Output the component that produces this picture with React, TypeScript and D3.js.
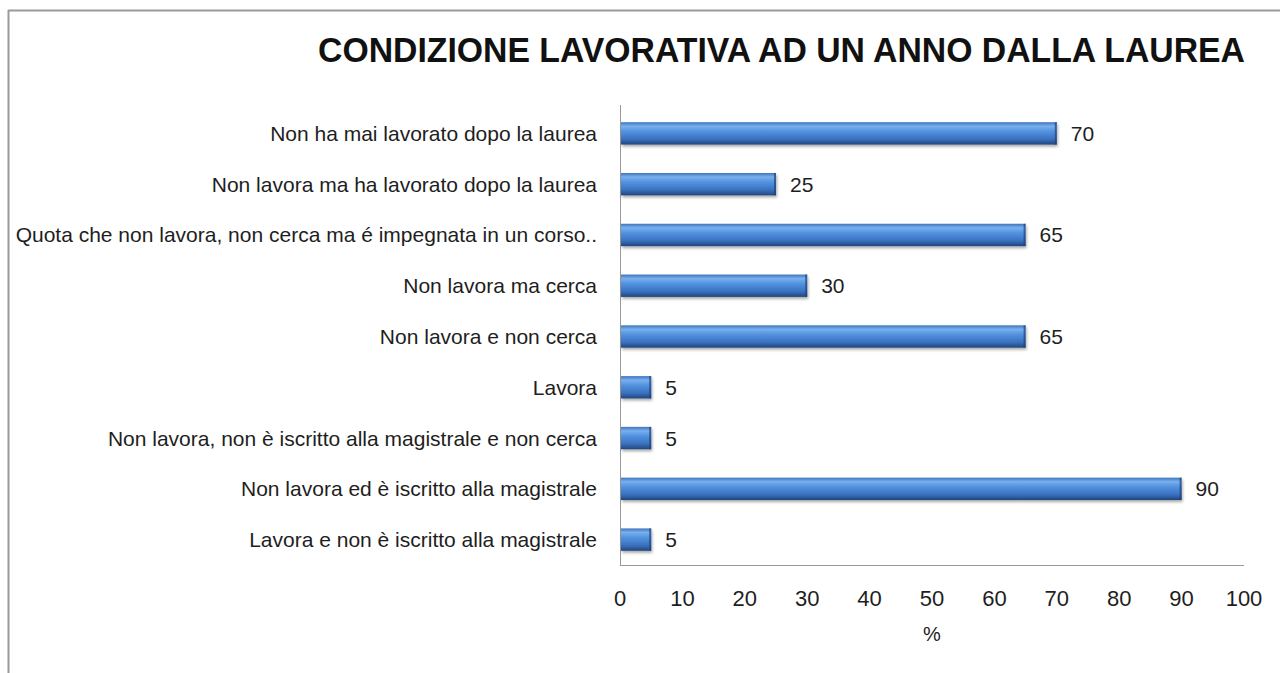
import React from "react";
import * as d3 from "d3";

const categories = [
  "Non ha mai lavorato dopo la laurea",
  "Non lavora ma ha lavorato dopo la laurea",
  "Quota che non lavora, non cerca ma é impegnata in un corso..",
  "Non lavora ma cerca",
  "Non lavora e non cerca",
  "Lavora",
  "Non lavora, non è iscritto alla magistrale e non cerca",
  "Non lavora ed è iscritto alla magistrale",
  "Lavora e non è iscritto alla magistrale",
];
const values = [70, 25, 65, 30, 65, 5, 5, 90, 5];
const ticks = [0, 10, 20, 30, 40, 50, 60, 70, 80, 90, 100];

const FONT = "'Liberation Sans Narrow', 'Arial Narrow', 'Liberation Sans', Arial, sans-serif";

export default function App() {
  const x = d3.scaleLinear().domain([0, 100]).range([620, 1244]);
  const y = d3.scaleBand<string>().domain(categories).range([108, 565]).paddingInner(0.56).paddingOuter(0.28);
  const bh = y.bandwidth();
  return (
    <svg width={1280} height={673} style={{ position: "absolute", left: 0, top: 0, background: "#fff" }}>
      <defs>
        <linearGradient id="barG" x1="0" y1="0" x2="0" y2="1">
          <stop offset="0%" stopColor="#3f74bd" />
          <stop offset="18%" stopColor="#79b0ef" />
          <stop offset="40%" stopColor="#5393e0" />
          <stop offset="75%" stopColor="#3a72c0" />
          <stop offset="100%" stopColor="#21467c" />
        </linearGradient>
        <filter id="sh" x="-10%" y="-40%" width="120%" height="200%">
          <feGaussianBlur in="SourceAlpha" stdDeviation="1.5" />
          <feOffset dx="1" dy="2" result="b" />
          <feComponentTransfer><feFuncA type="linear" slope="0.35" /></feComponentTransfer>
          <feMerge><feMergeNode /><feMergeNode in="SourceGraphic" /></feMerge>
        </filter>
      </defs>
      <rect x={0} y={0} width={1280} height={673} fill="#fff" />
      <line x1={8.5} y1={10} x2={8.5} y2={673} stroke="#9a9a9a" strokeWidth={2} />
      <line x1={8} y1={10.5} x2={1280} y2={10.5} stroke="#9a9a9a" strokeWidth={2} />
      <text x={318} y={62} textLength={927} lengthAdjust="spacingAndGlyphs" fontFamily={FONT} fontWeight="bold" fontSize={35} fill="#111">
        CONDIZIONE LAVORATIVA AD UN ANNO DALLA LAUREA
      </text>
      <line x1={620.5} y1={105} x2={620.5} y2={566} stroke="#999" strokeWidth={1} />
      <line x1={620} y1={565.5} x2={1244} y2={565.5} stroke="#999" strokeWidth={1} />
      {categories.map((c, i) => {
        const yy = y(c)!;
        return (
          <g key={c}>
            <text x={597} y={yy + bh / 2 + 7.5} textAnchor="end" fontFamily={FONT} fontSize={21} fill="#1e1e1e">{c}</text>
            <rect x={x(0) + 1} y={yy} width={x(values[i]) - x(0) - 1} height={bh} fill="url(#barG)" filter="url(#sh)" />
            <rect x={x(values[i]) - 2} y={yy} width={2} height={bh} fill="#1f4276" opacity={0.7} />
            <text x={x(values[i]) + 14} y={yy + bh / 2 + 7.5} fontFamily={FONT} fontSize={21} fill="#1e1e1e">{values[i]}</text>
          </g>
        );
      })}
      {ticks.map((t) => (
        <text key={t} x={x(t)} y={606} textAnchor="middle" fontFamily={FONT} fontSize={22} fill="#1e1e1e">{t}</text>
      ))}
      <text x={932} y={641} textAnchor="middle" fontFamily={FONT} fontSize={20} fill="#1e1e1e">%</text>
    </svg>
  );
}
